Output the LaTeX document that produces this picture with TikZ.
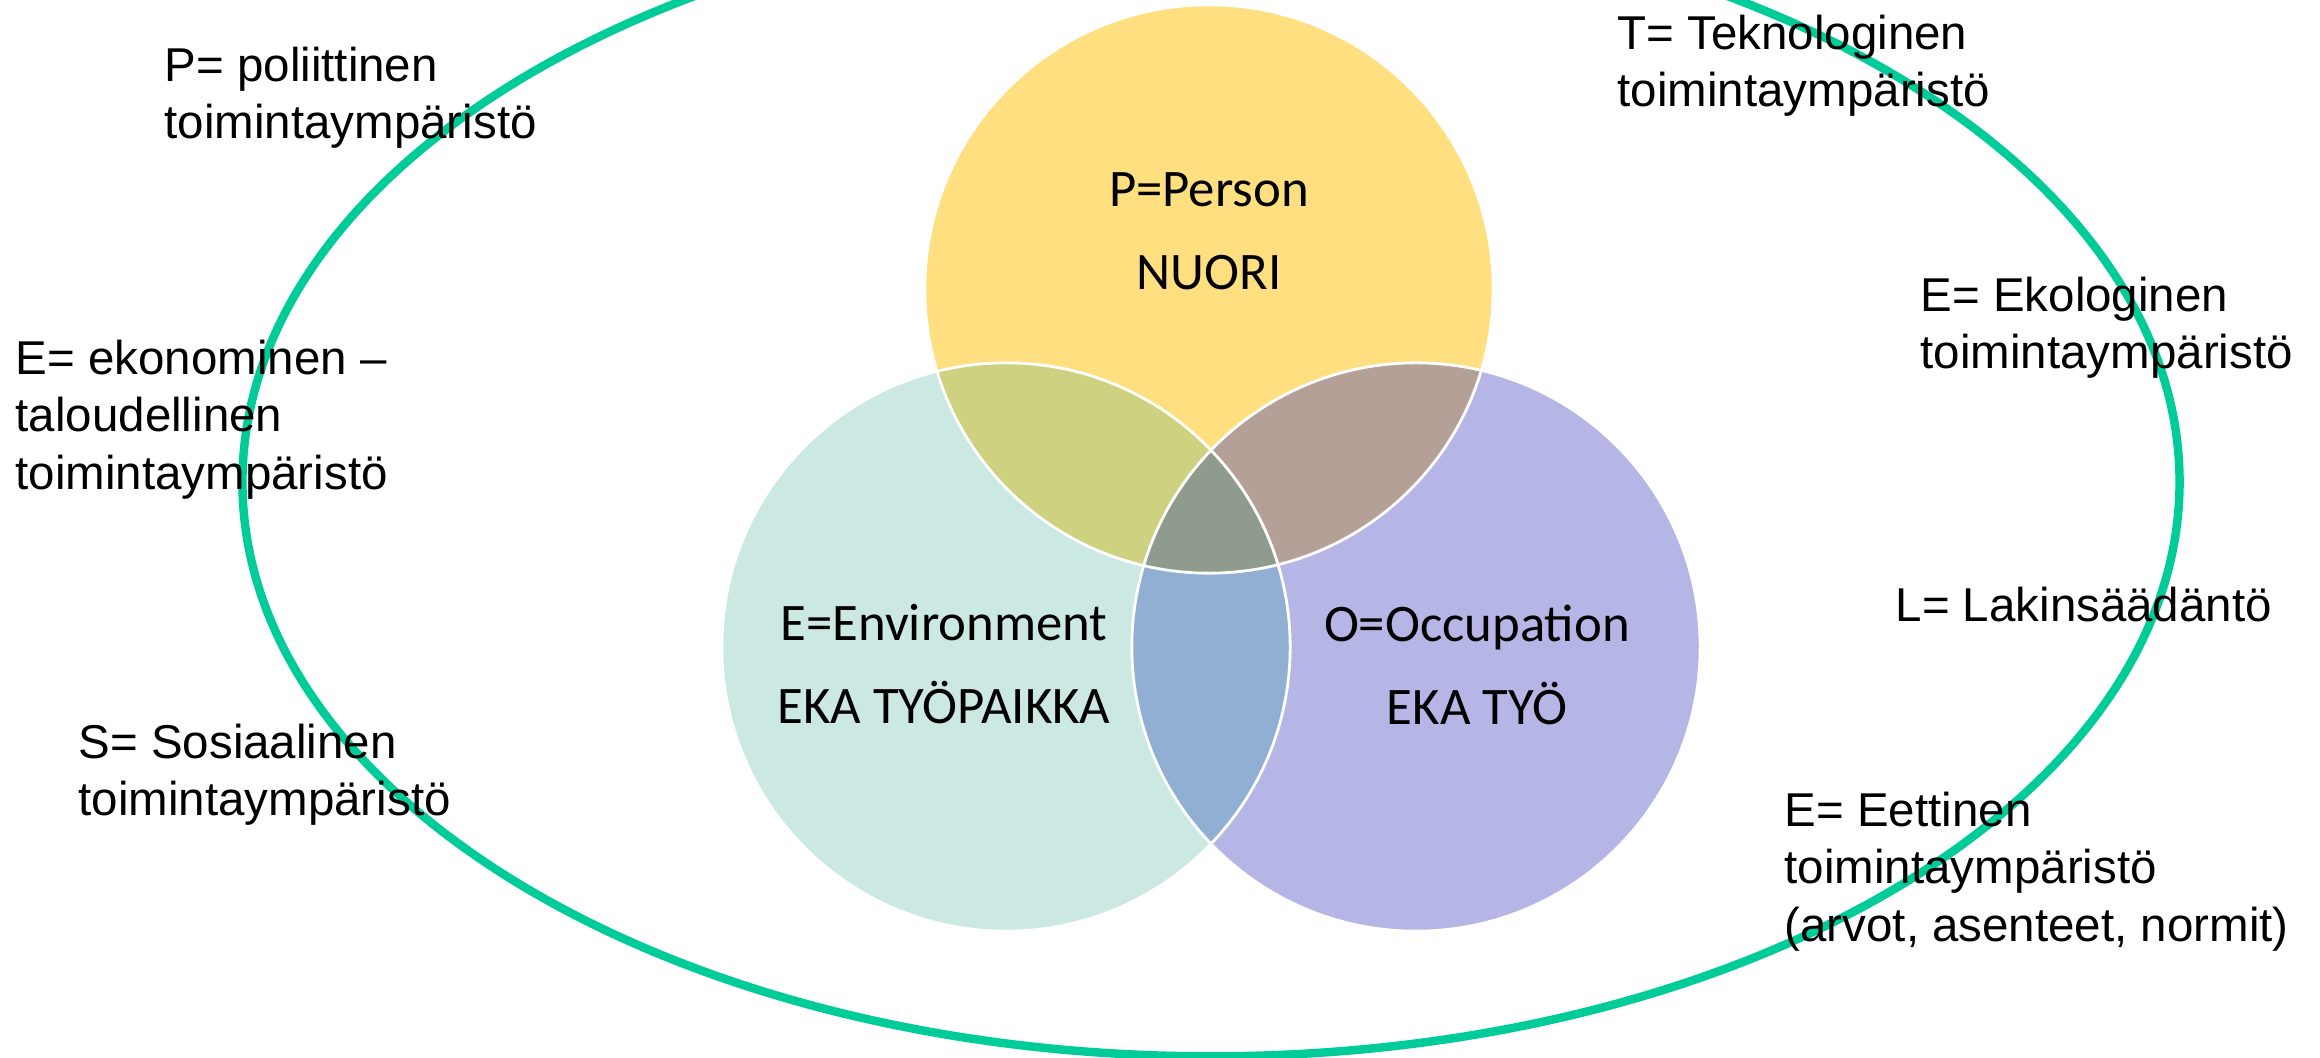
\documentclass[tikz,border=0pt]{standalone}
\usepackage{fontspec}
\setmainfont{Liberation Sans}
\newfontfamily\carlito{Carlito}
\definecolor{envgreen}{RGB}{0,204,153}
\definecolor{personc}{RGB}{255,223,128}
\definecolor{environc}{RGB}{204,232,226}
\definecolor{occupc}{RGB}{181,181,230}
\definecolor{pec}{RGB}{205,209,128}
\definecolor{poc}{RGB}{180,160,150}
\definecolor{eoc}{RGB}{145,175,210}
\definecolor{peoc}{RGB}{143,155,140}
\tikzstyle{envtext}=[anchor=north west,inner sep=0pt,align=left,font=\fontsize{13.5}{16.4}\selectfont]
\tikzstyle{venntext}=[anchor=north,inner sep=0pt,align=center,font=\carlito\fontsize{15}{23.6}\selectfont]
\tikzstyle{rim}=[white,line width=0.8pt]

\begin{document}
\begin{tikzpicture}[x=0.01cm,y=-0.01cm]
\useasboundingbox (0,0) rectangle (2320,1058);
\fill[white] (0,0) rectangle (2320,1058);

\coordinate (p) at (1209,289);
\coordinate (e) at (1006,647);
\coordinate (o) at (1416,647);

\draw[envgreen, line width=2.4pt] (1211,482) ellipse [x radius=9.68cm, y radius=5.74cm];

\fill[personc] (p) circle[radius=2.84cm];
\fill[environc] (e) circle[radius=2.84cm];
\fill[occupc] (o) circle[radius=2.84cm];
\begin{scope}
\clip (p) circle[radius=2.84cm];
\fill[pec] (e) circle[radius=2.84cm];
\fill[poc] (o) circle[radius=2.84cm];
\end{scope}
\begin{scope}
\clip (e) circle[radius=2.84cm];
\fill[eoc] (o) circle[radius=2.84cm];
\clip (p) circle[radius=2.84cm];
\fill[peoc] (o) circle[radius=2.84cm];
\end{scope}
\draw[rim] (p) circle[radius=2.84cm];
\draw[rim] (e) circle[radius=2.84cm];
\draw[rim] (o) circle[radius=2.84cm];

\node (person) at (1209,172) [venntext] {P=Person\\NUORI};
\node (environment) at (944,604) [venntext] {E=Environment\\EKA TYÖPAIKKA};
\node (occupation) at (1477,604) [venntext] {O=Occupation\\EKA TYÖ};

\node (pol) at (164,46) [envtext] {P= poliittinen\\toimintaympäristö};
\node (eko) at (15,339) [envtext] {E= ekonominen –\\taloudellinen\\toimintaympäristö};
\node (sos) at (78,723) [envtext] {S= Sosiaalinen\\toimintaympäristö};
\node (tek) at (1617,14) [envtext] {T= Teknologinen\\toimintaympäristö};
\node (ekol) at (1920,276) [envtext] {E= Ekologinen\\toimintaympäristö};
\node (lak) at (1895,586) [envtext] {L= Lakinsäädäntö};
\node (eet) at (1784,791) [envtext] {E= Eettinen\\toimintaympäristö\\(arvot, asenteet, normit)};
\end{tikzpicture}
\end{document}
